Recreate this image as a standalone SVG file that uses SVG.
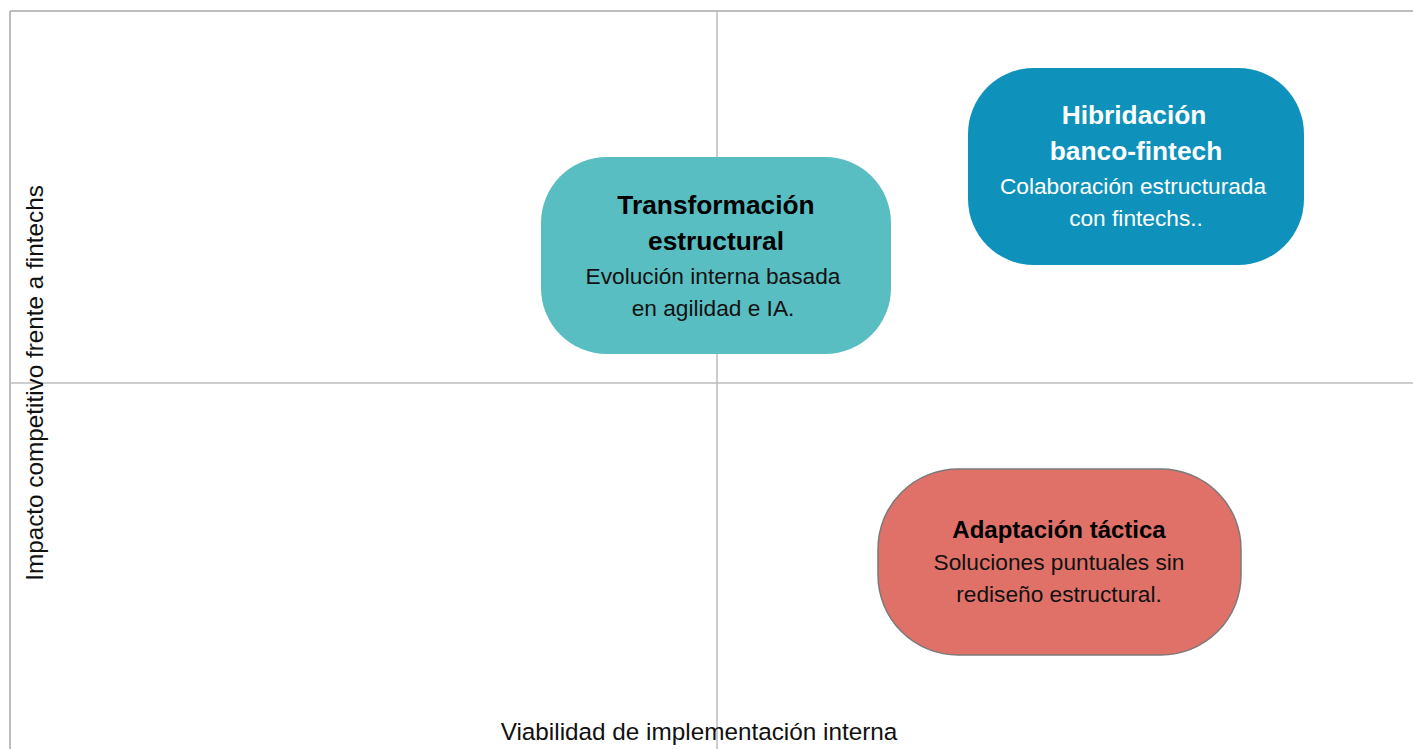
<svg xmlns="http://www.w3.org/2000/svg" width="1413" height="749" viewBox="0 0 1413 749">
<style>
.ax{stroke:#bdbdbd;stroke-width:2;fill:none}
.mid{stroke:#bdbdbd;stroke-width:1.5;fill:none}
.t{font-family:"Liberation Sans",Arial,sans-serif;text-anchor:middle}
.b{font-weight:bold;font-size:26.3px}
.r{font-size:22.7px}
.lab{font-family:"Liberation Sans",Arial,sans-serif;font-size:24.3px;fill:#111;text-anchor:middle}
</style>
<rect width="1413" height="749" fill="#fff"/>
<g id="axes">
<path class="ax" d="M10,11H1413M10,11V749"/>
<path class="mid" d="M717,11V749M10,383H1413"/>
</g>
<g id="node-transformacion">
<rect x="541" y="157" width="350" height="197" rx="66" fill="#59bec2"/>
<text class="t b" x="716" y="214" fill="#000">Transformación</text>
<text class="t b" x="716" y="250" fill="#000">estructural</text>
<text class="t r" x="713" y="284" fill="#111">Evolución interna basada</text>
<text class="t r" x="713" y="316" fill="#111">en agilidad e IA.</text>
</g>
<g id="node-hibridacion">
<rect x="968" y="68" width="336" height="197" rx="66" fill="#0e92bb"/>
<text class="t b" x="1134" y="124" fill="#fff">Hibridación</text>
<text class="t b" x="1136" y="160" fill="#fff">banco-fintech</text>
<text class="t r" x="1133" y="194" fill="#fff">Colaboración estructurada</text>
<text class="t r" x="1136" y="226" fill="#fff">con fintechs..</text>
</g>
<g id="node-adaptacion">
<rect x="878" y="469" width="363" height="186" rx="80" fill="#df7169" stroke="#7a7a7a" stroke-width="1.5"/>
<text class="t" x="1059" y="538" fill="#000" style="font-weight:bold;font-size:24px">Adaptación táctica</text>
<text class="t r" x="1059" y="570" fill="#111">Soluciones puntuales sin</text>
<text class="t r" x="1059" y="602" fill="#111">rediseño estructural.</text>
</g>
<g id="labels">
<text class="lab" x="699" y="740">Viabilidad de implementación interna</text>
<text class="lab" transform="translate(43,383) rotate(-90)">Impacto competitivo frente a fintechs</text>
</g>
</svg>
